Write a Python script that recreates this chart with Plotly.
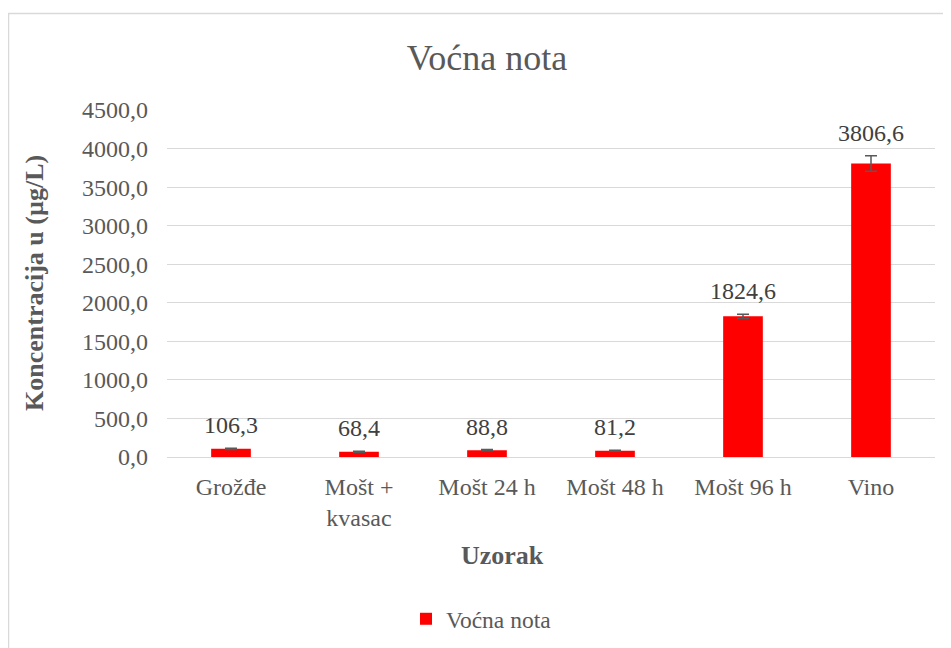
import plotly.graph_objects as go

categories = ["Grožđe", "Mošt +<br>kvasac", "Mošt 24 h", "Mošt 48 h", "Mošt 96 h", "Vino"]
values = [106.3, 68.4, 88.8, 81.2, 1824.6, 3806.6]
errors = [8, 6, 7, 6, 28, 100]
series_name = "Voćna nota"
y_ticks = [0, 500, 1000, 1500, 2000, 2500, 3000, 3500, 4000, 4500]

# page body adds an 8px offset; work in reference coords minus 8
OFF = 8
W, H = 951 - OFF, 648 - OFF
L, R, T, B = 167 - OFF, 16, 110 - OFF, 191
PW, PH = W - L - R, H - T - B
Y0 = 457 - OFF
grey = "#595959"
font = "Liberation Serif"

def px(x):
    return (x - OFF - L) / PW

def py(y):
    return (Y0 - (y - OFF)) / PH

fig = go.Figure()
fig.add_trace(go.Bar(
    x=categories, y=values, name=series_name,
    marker=dict(color="#ff0000", line=dict(width=0)),
    width=0.31,
    error_y=dict(type="data", array=errors, visible=True, color=grey, thickness=1.5, width=6),
    cliponaxis=False,
))

label_annotations = [
    dict(x=c, y=v + e, xref="x", yref="y", text=f"{v:.1f}".replace(".", ","),
         showarrow=False, xanchor="center", yanchor="middle", yshift=23,
         font=dict(family=font, size=24, color="#404040"))
    for c, v, e in zip(categories, values, errors)
]

fig.update_layout(
    width=W, height=H,
    margin=dict(l=L, r=R, t=T, b=B, autoexpand=False),
    paper_bgcolor="white", plot_bgcolor="white",
    separators=", ",
    font=dict(family=font, color=grey),
    title=dict(text="Voćna nota", x=(487 - OFF) / W, xanchor="center", y=1 - (57 - OFF) / H, yanchor="middle",
               font=dict(family=font, size=36, color=grey)),
    showlegend=True,
    legend=dict(orientation="h", x=px(406), xanchor="left", y=py(619), yanchor="middle",
                font=dict(family=font, size=23.5, color=grey)),
    bargap=0.69,
    yaxis=dict(range=[0, 4500], tickvals=y_ticks, tickformat=".1f", showgrid=True,
               gridcolor="#d9d9d9", gridwidth=1.3, zeroline=False, showline=False,
               tickfont=dict(family=font, size=24, color=grey), ticks="", ticklen=0,
               ticklabelstandoff=18, automargin=False),
    xaxis=dict(showline=True, linecolor="#d9d9d9", linewidth=1.3, ticks="",
               tickfont=dict(family=font, size=24, color=grey), ticklabelstandoff=8,
               automargin=False),
    annotations=label_annotations + [
        dict(text="<b>Koncentracija u (µg/L)</b>", xref="paper", yref="paper",
             x=px(34), y=py(283), textangle=-90,
             showarrow=False, xanchor="center", yanchor="middle",
             font=dict(family=font, size=26, color=grey)),
        dict(text="<b>Uzorak</b>", xref="paper", yref="paper",
             x=px(502), y=py(555),
             showarrow=False, xanchor="center", yanchor="middle",
             font=dict(family=font, size=26, color=grey)),
    ],
    shapes=[
        dict(type="rect", xref="paper", yref="paper",
             x0=px(8.5), x1=px(980), y0=py(680), y1=py(13.5),
             line=dict(color="#d9d9d9", width=1.5), layer="below"),
    ],
)

fig.write_html("out.html")
